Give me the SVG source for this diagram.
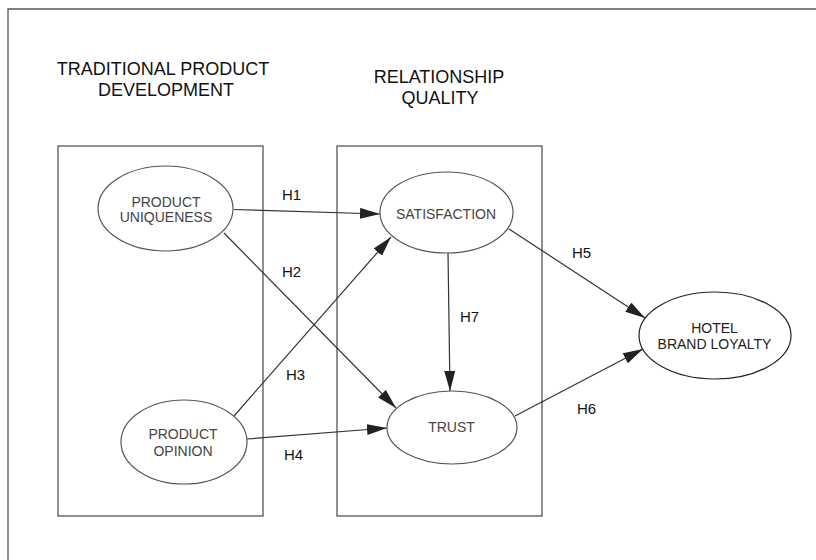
<svg xmlns="http://www.w3.org/2000/svg" width="816" height="560" viewBox="0 0 816 560">
<defs>
<style>
.title{font-family:"Liberation Sans",Arial,sans-serif;font-size:18px;fill:#111;text-anchor:middle}
.node{font-family:"Liberation Sans",Arial,sans-serif;font-size:14px;fill:#444;text-anchor:middle}
.lbl{font-family:"Liberation Sans",Arial,sans-serif;font-size:15px;fill:#111}
.box{fill:none;stroke:#555;stroke-width:1.3}
.ell{fill:#fff;stroke:#555;stroke-width:1.2}
.edge{fill:none;stroke:#333;stroke-width:1.2;marker-end:url(#arr)}
</style>
<marker id="arr" markerUnits="userSpaceOnUse" markerWidth="22" markerHeight="12" refX="20" refY="5.5" orient="auto" viewBox="0 0 22 12">
<path d="M0,0 L20,5.5 L0,11 z" fill="#222"/>
</marker>
</defs>
<rect width="816" height="560" fill="#fff"/>
<path d="M8,575 L8,9 L830,9" fill="none" stroke="#555" stroke-width="1.3"/>
<g id="titles">
<text class="title" x="163" y="75">TRADITIONAL PRODUCT</text>
<text class="title" x="166" y="96">DEVELOPMENT</text>
<text class="title" x="439" y="83">RELATIONSHIP</text>
<text class="title" x="440" y="104">QUALITY</text>
</g>
<g id="group-tpd"><rect class="box" x="58" y="146" width="205" height="370"/></g>
<g id="group-rq"><rect class="box" x="337" y="146" width="205" height="370"/></g>
<g id="connectors">
<line class="edge" x1="234" y1="209.5" x2="380" y2="214"/>
<line class="edge" x1="224" y1="233" x2="396" y2="408"/>
<line class="edge" x1="234" y1="416" x2="391" y2="237"/>
<line class="edge" x1="247" y1="439" x2="387" y2="428"/>
<line class="edge" x1="448" y1="253" x2="450" y2="391"/>
<line class="edge" x1="509" y1="229" x2="645" y2="318"/>
<line class="edge" x1="515" y1="416" x2="643" y2="349"/>
<text class="lbl" x="282" y="200">H1</text>
<text class="lbl" x="282" y="277">H2</text>
<text class="lbl" x="286" y="380">H3</text>
<text class="lbl" x="284" y="460">H4</text>
<text class="lbl" x="572" y="258">H5</text>
<text class="lbl" x="577" y="414">H6</text>
<text class="lbl" x="460" y="322">H7</text>
</g>
<g id="product-uniqueness">
<ellipse class="ell" cx="165.5" cy="208.5" rx="67.5" ry="42.5"/>
<text class="node" x="166" y="207">PRODUCT</text>
<text class="node" x="166" y="222">UNIQUENESS</text>
</g>
<g id="product-opinion">
<ellipse class="ell" cx="184" cy="442" rx="63" ry="42"/>
<text class="node" x="183" y="439">PRODUCT</text>
<text class="node" x="183" y="456">OPINION</text>
</g>
<g id="satisfaction">
<ellipse class="ell" cx="446.5" cy="212.5" rx="66.5" ry="40.5"/>
<text class="node" x="446" y="219">SATISFACTION</text>
</g>
<g id="trust">
<ellipse class="ell" cx="452" cy="427.5" rx="65" ry="36.5"/>
<text class="node" x="451.5" y="432">TRUST</text>
</g>
<g id="hotel-brand-loyalty">
<ellipse class="ell" cx="715" cy="335.5" rx="76" ry="43.5" style="stroke:#222"/>
<text class="node" x="714.5" y="333" style="fill:#222">HOTEL</text>
<text class="node" x="714.5" y="349" style="fill:#222">BRAND LOYALTY</text>
</g>
</svg>
